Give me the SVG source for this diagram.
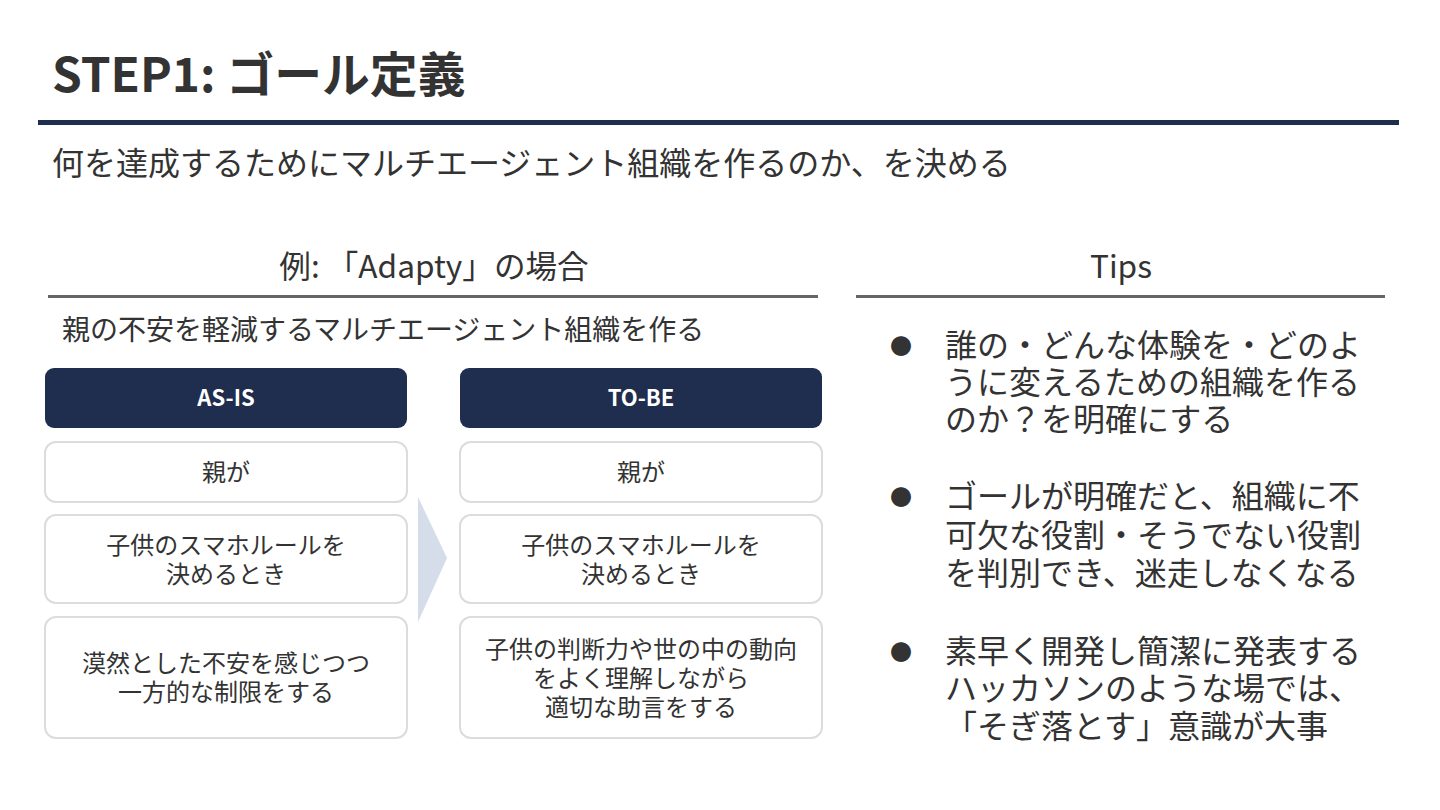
<svg xmlns="http://www.w3.org/2000/svg" width="1440" height="810" viewBox="0 0 1440 810">
<style>
text{font-family:"Noto Sans CJK JP","Noto Sans",sans-serif;fill:#333}
.title{font-size:47.8px;font-weight:700}
.sub{font-size:32px}
.sec{font-size:31.6px;text-anchor:middle}
.lead{font-size:28px}
.hdr{fill:#1f2d4e}
.htxt{font-size:22px;font-weight:700;fill:#fff;text-anchor:middle}
.box{fill:#fff;stroke:#dcdcdc;stroke-width:2}
.btxt{font-size:24px;text-anchor:middle}
.tip{font-size:32px}
.dot{font-size:22px}
</style>
<rect width="1440" height="810" fill="#fff"/>
<text class="title" x="52" y="92">STEP1: ゴール定義</text>
<rect x="38" y="120" width="1361" height="5" fill="#1f2d4e"/>
<text class="sub" x="52" y="175">何を達成するためにマルチエージェント組織を作るのか、を決める</text>

<text class="sec" x="434" y="278">例: 「Adapty」の場合</text>
<rect x="48" y="295" width="770" height="3" fill="#666"/>
<text class="sec" x="1121" y="278">Tips</text>
<rect x="856" y="295" width="529" height="3" fill="#666"/>

<text class="lead" x="62" y="340">親の不安を軽減するマルチエージェント組織を作る</text>

<g id="connectors">
<polygon points="418,497 447,558 418,622" fill="#d5dcea"/>
</g>

<g id="asis-header"><rect class="hdr" x="45" y="368" width="362" height="60" rx="9"/><text class="htxt" x="226" y="406">AS-IS</text></g>
<g id="tobe-header"><rect class="hdr" x="460" y="368" width="362" height="60" rx="9"/><text class="htxt" x="641" y="406">TO-BE</text></g>

<g id="asis-1"><rect class="box" x="45" y="442" width="362" height="60" rx="11"/><text class="btxt" x="226" y="481">親が</text></g>
<g id="asis-2"><rect class="box" x="45" y="515" width="362" height="88" rx="11"/><text class="btxt" x="226" y="554">子供のスマホルールを</text><text class="btxt" x="226" y="583">決めるとき</text></g>
<g id="asis-3"><rect class="box" x="45" y="617" width="362" height="121" rx="11"/><text class="btxt" x="226" y="672">漠然とした不安を感じつつ</text><text class="btxt" x="226" y="701">一方的な制限をする</text></g>

<g id="tobe-1"><rect class="box" x="460" y="442" width="362" height="60" rx="11"/><text class="btxt" x="641" y="481">親が</text></g>
<g id="tobe-2"><rect class="box" x="460" y="515" width="362" height="88" rx="11"/><text class="btxt" x="641" y="554">子供のスマホルールを</text><text class="btxt" x="641" y="583">決めるとき</text></g>
<g id="tobe-3"><rect class="box" x="460" y="617" width="362" height="121" rx="11"/><text class="btxt" x="641" y="658">子供の判断力や世の中の動向</text><text class="btxt" x="641" y="687">をよく理解しながら</text><text class="btxt" x="641" y="716">適切な助言をする</text></g>

<g id="tip-1">
<text class="dot" x="890" y="354">●</text>
<text class="tip" x="945" y="357">誰の・どんな体験を・どのよ</text>
<text class="tip" x="945" y="394">うに変えるための組織を作る</text>
<text class="tip" x="945" y="431">のか？を明確にする</text>
</g>
<g id="tip-2">
<text class="dot" x="890" y="505">●</text>
<text class="tip" x="945" y="508">ゴールが明確だと、組織に不</text>
<text class="tip" x="945" y="547">可欠な役割・そうでない役割</text>
<text class="tip" x="945" y="585">を判別でき、迷走しなくなる</text>
</g>
<g id="tip-3">
<text class="dot" x="890" y="660">●</text>
<text class="tip" x="945" y="663">素早く開発し簡潔に発表する</text>
<text class="tip" x="945" y="700">ハッカソンのような場では、</text>
<text class="tip" x="945" y="738">「そぎ落とす」意識が大事</text>
</g>
</svg>
